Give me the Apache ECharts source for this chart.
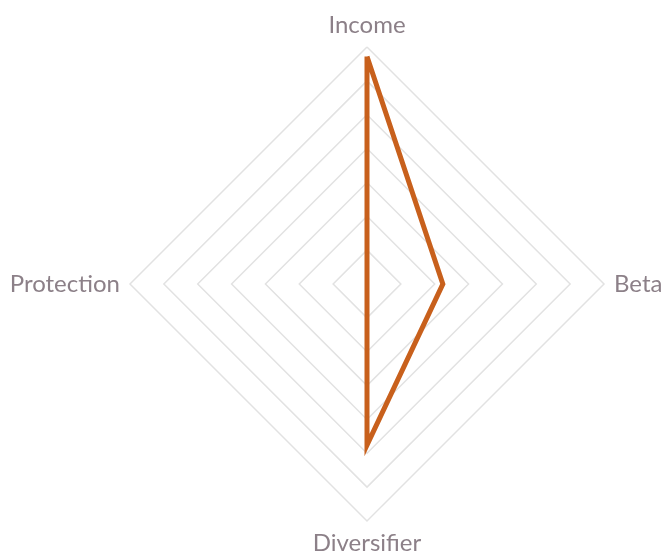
<!DOCTYPE html>
<html>
<head>
<meta charset="utf-8">
<script src="https://cdn.jsdelivr.net/npm/echarts@6/dist/echarts.min.js"></script>
<style>
html,body{margin:0;padding:0;background:#fff;}
#chart{width:662px;height:553px;}
</style>
</head>
<body>
<div id="chart"></div>
<script>
// indicators listed in ECharts order (counter-clockwise from top)
const indicatorNames = ['Income', 'Protection', 'Diversifier', 'Beta'];
const indicatorMax = [1, 1, 1, 1];
const seriesValues = [0.96, 0, 0.68, 0.32];

const chart = echarts.init(document.getElementById('chart'), null, {renderer: 'canvas'});
chart.setOption({
  animation: false,
  radar: {
    center: [367, 284],
    radius: 237,
    shape: 'polygon',
    splitNumber: 7,
    startAngle: 90,
    nameGap: 10,
    indicator: indicatorNames.map((n, i) => ({name: n, min: 0, max: indicatorMax[i]})),
    axisName: {color: '#8c8088', fontFamily: 'Lato', fontSize: 24},
    axisLine: {show: false},
    axisTick: {show: false},
    axisLabel: {show: false},
    splitArea: {show: false},
    splitLine: {lineStyle: {color: '#e2e2e2', width: 1.5}}
  },
  series: [{
    type: 'radar',
    symbol: 'none',
    data: [{value: seriesValues}],
    lineStyle: {color: '#c8601c', width: 5, join: 'miter'},
    areaStyle: null
  }]
});
</script>
</body>
</html>
